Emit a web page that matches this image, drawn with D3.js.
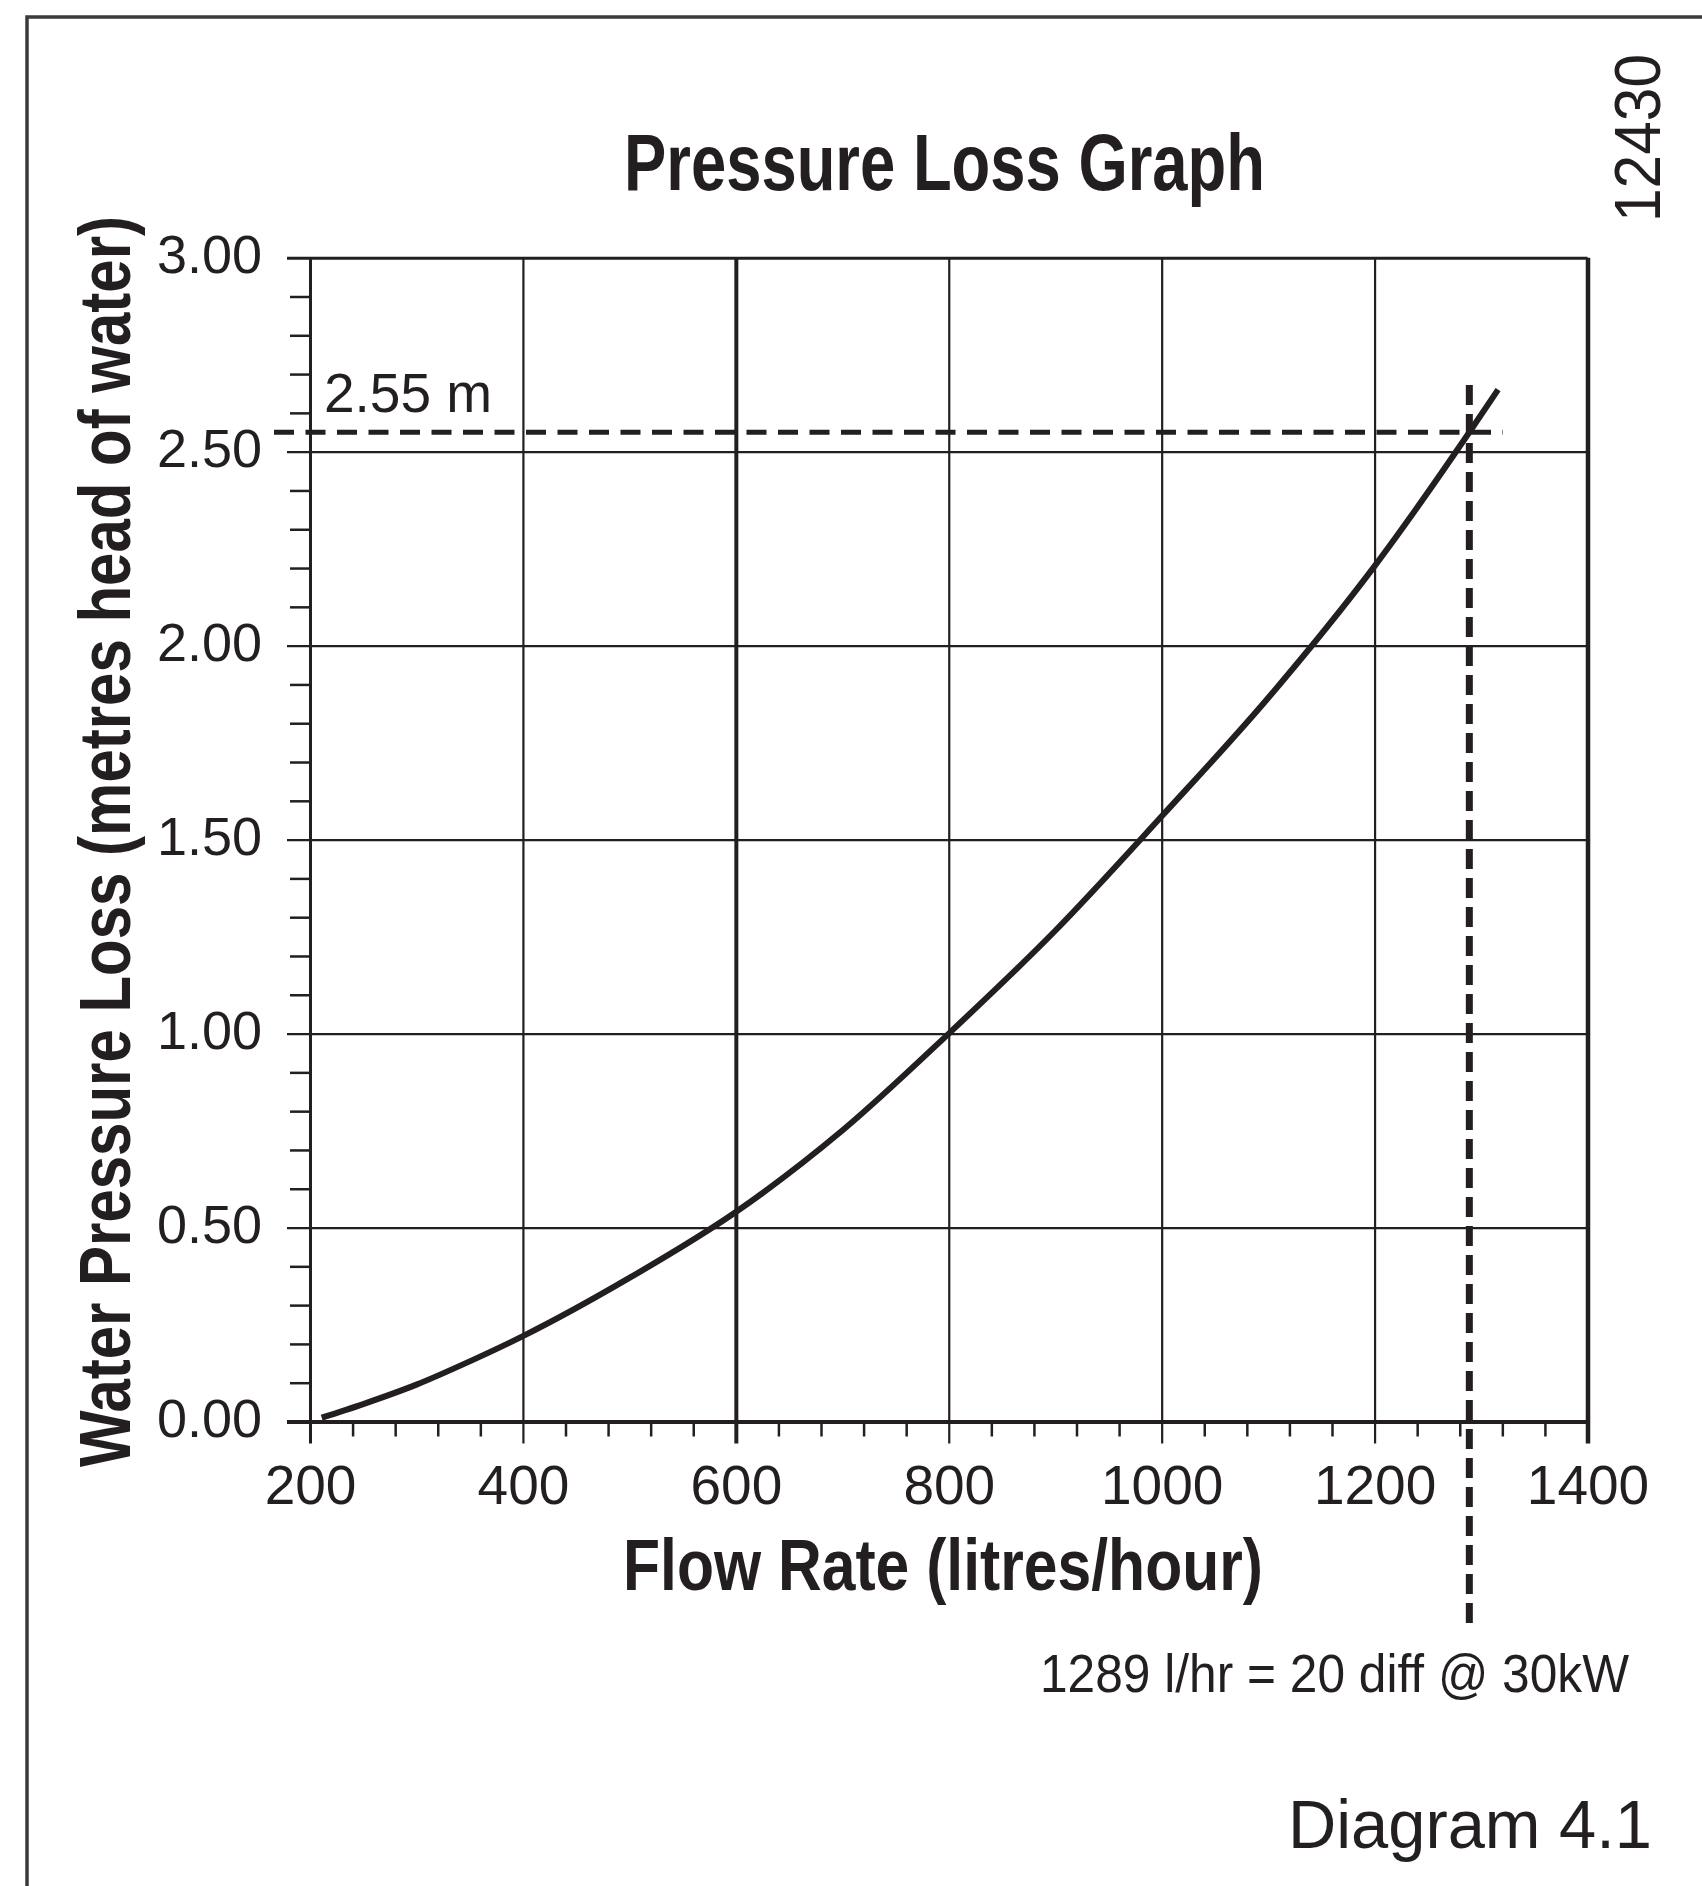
<!DOCTYPE html>
<html>
<head>
<meta charset="utf-8">
<script src="https://cdn.jsdelivr.net/npm/d3@7/dist/d3.min.js"></script>
<style>
  html, body { margin: 0; padding: 0; background: #fff; }
  svg { display: block; }
  text { fill: #231f20; }
</style>
</head>
<body>
<script>
// ---- data ----
const flowRate = [211, 250, 300, 350, 400, 500, 600, 700, 800, 900, 1000, 1100, 1200, 1289, 1316];
const pressureLoss = [0.01, 0.045, 0.095, 0.155, 0.22, 0.37, 0.54, 0.75, 1.00, 1.265, 1.56, 1.865, 2.205, 2.55, 2.66];
const xTickValues = [200, 400, 600, 800, 1000, 1200, 1400];
const yTickValues = [0, 0.5, 1.0, 1.5, 2.0, 2.5, 3.0];
const designFlow = 1289;
const designLoss = 2.55;
const titleText = "Pressure Loss Graph";
const xLabelText = "Flow Rate (litres/hour)";
const yLabelText = "Water Pressure Loss (metres head of water)";
const designLossLabel = "2.55 m";
const designFlowLabel = "1289 l/hr = 20 diff @ 30kW";
const diagramLabel = "Diagram 4.1";
const codeLabel = "12430";

const W = 1702, H = 1886;
const ink = "#231f20";
const svg = d3.select("body").append("svg").attr("width", W).attr("height", H);

// outer frame (top and left edges)
svg.append("path").attr("d", `M27,${H} L27,17 L${W},17`)
  .attr("fill", "none").attr("stroke", "#3a3a3a").attr("stroke-width", 3.5);

const x = d3.scaleLinear().domain([200, 1400]).range([310, 1587.5]);
const y = d3.scaleLinear().domain([0, 3]).range([1421.5, 257.7]);
const x0 = x(200), x1 = x(1400), yTop = y(3), yBot = y(0);

const font = "'Liberation Sans', Arial, Helvetica, sans-serif";
const narrow = "'Liberation Sans Narrow', 'Liberation Sans', Arial, sans-serif";

// minor ticks
const xMinor = d3.range(200, 1401, 40).filter(v => v % 200 !== 0);
const yMinor = d3.range(0, 31).map(i => i / 10).filter(v => Math.round(v * 10) % 5 !== 0);

svg.append("g").attr("transform", `translate(0,${yBot})`)
  .call(d3.axisBottom(x).tickValues(xMinor).tickSize(15).tickFormat(""))
  .call(g => g.select(".domain").remove())
  .call(g => g.selectAll("line").attr("stroke", ink).attr("stroke-width", 2.5));

svg.append("g").attr("transform", `translate(${x0},0)`)
  .call(d3.axisLeft(y).tickValues(yMinor).tickSize(20).tickFormat(""))
  .call(g => g.select(".domain").remove())
  .call(g => g.selectAll("line").attr("stroke", ink).attr("stroke-width", 2.5));

// horizontal grid lines (extend left as major ticks)
svg.append("g").attr("transform", `translate(${x0},0)`)
  .call(d3.axisLeft(y).tickValues(yTickValues).tickSize(23).tickPadding(25)
    .tickFormat(d3.format(".2f")))
  .call(g => g.select(".domain").remove())
  .call(g => g.selectAll(".tick line").attr("x2", x1 - x0).attr("x1", -23)
    .attr("stroke", ink).attr("stroke-width", d => (d === 0 ? 4 : d === 3 ? 3 : 2.2)))
  .call(g => g.selectAll(".tick text").attr("font-family", font).attr("font-size", 54)
    .attr("fill", ink).attr("dy", "0.27em"));

// vertical grid lines (extend below as major ticks)
svg.append("g").attr("transform", `translate(0,${yBot})`)
  .call(d3.axisBottom(x).tickValues(xTickValues).tickSize(22).tickPadding(21.5)
    .tickFormat(d3.format("d")))
  .call(g => g.select(".domain").remove())
  .call(g => g.selectAll(".tick line").attr("y1", yTop - yBot).attr("y2", 22)
    .attr("stroke", ink)
    .attr("stroke-width", d => (d === 1400 ? 4.5 : d === 600 ? 4 : d === 200 ? 3 : 2.2)))
  .call(g => g.selectAll(".tick text").attr("font-family", font).attr("font-size", 55)
    .attr("fill", ink));

// pressure loss curve
const line = d3.line().x((d, i) => x(flowRate[i])).y((d, i) => y(pressureLoss[i]))
  .curve(d3.curveMonotoneX);
svg.append("path").datum(flowRate).attr("d", line)
  .attr("fill", "none").attr("stroke", ink).attr("stroke-width", 6).attr("stroke-linecap", "butt");

// design point dashed lines
svg.append("line")
  .attr("x1", 274).attr("x2", 1503).attr("y1", y(designLoss)).attr("y2", y(designLoss))
  .attr("stroke", ink).attr("stroke-width", 5).attr("stroke-dasharray", "20,11.5");
svg.append("line")
  .attr("x1", x(designFlow)).attr("x2", x(designFlow)).attr("y1", 385).attr("y2", 1627)
  .attr("stroke", ink).attr("stroke-width", 7).attr("stroke-dasharray", "20,9");

// texts
svg.append("text").attr("x", 324).attr("y", 411.5)
  .attr("font-family", font).attr("font-size", 55).text(designLossLabel);

svg.append("text").attr("x", 1040).attr("y", 1691.5)
  .attr("font-family", font).attr("font-size", 54)
  .attr("textLength", 589).attr("lengthAdjust", "spacingAndGlyphs").text(designFlowLabel);

svg.append("text").attr("x", 1288).attr("y", 1848)
  .attr("font-family", font).attr("font-size", 69)
  .attr("textLength", 364).attr("lengthAdjust", "spacingAndGlyphs").text(diagramLabel);

svg.append("text").attr("x", 624).attr("y", 190)
  .attr("font-family", narrow).attr("font-weight", "bold").attr("font-size", 80)
  .attr("textLength", 641).attr("lengthAdjust", "spacingAndGlyphs").text(titleText);

svg.append("text").attr("x", 623).attr("y", 1590)
  .attr("font-family", narrow).attr("font-weight", "bold").attr("font-size", 72)
  .attr("textLength", 640).attr("lengthAdjust", "spacingAndGlyphs").text(xLabelText);

svg.append("text").attr("transform", "translate(130,1467) rotate(-90)")
  .attr("font-family", narrow).attr("font-weight", "bold").attr("font-size", 73)
  .attr("textLength", 1251).attr("lengthAdjust", "spacingAndGlyphs").text(yLabelText);

svg.append("text").attr("transform", "translate(1660,222) rotate(-90)")
  .attr("font-family", font).attr("font-size", 64)
  .attr("textLength", 168).attr("lengthAdjust", "spacingAndGlyphs").text(codeLabel);
</script>
</body>
</html>
